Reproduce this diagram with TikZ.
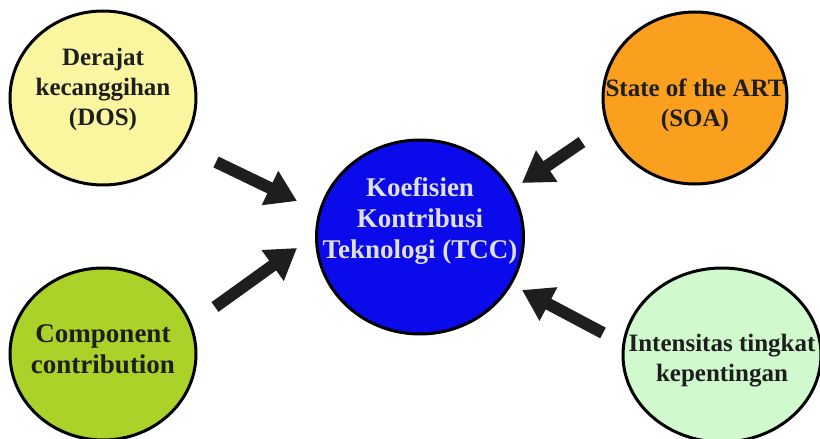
\documentclass[tikz,border=0pt]{standalone}
\usepackage{fontspec}
\setmainfont{Liberation Serif}
\usetikzlibrary{shapes.geometric,arrows.meta}

\definecolor{dosyellow}{RGB}{250,246,160}
\definecolor{soaorange}{RGB}{250,160,30}
\definecolor{tccblue}{RGB}{10,10,235}
\definecolor{ccgreen}{RGB}{170,210,40}
\definecolor{itkgreen}{RGB}{208,250,205}
\definecolor{inkdark}{RGB}{30,30,30}

\tikzset{
    bubble/.style={ellipse, draw=black, line width=3pt, inner sep=0pt},
    bubtext/.style={align=center, text=inkdark, inner sep=0pt,
        font=\bfseries\fontsize{25}{30}\selectfont},
    bigarrow/.style={draw=inkdark, line width=12pt,
        -{Triangle[length=30pt,width=36pt]}}
}

\begin{document}
\begin{tikzpicture}[x=1pt,y=1pt]
    \useasboundingbox (0,0) rectangle (820,-439);

    % circles
    \node[bubble, fill=dosyellow, minimum width=186pt, minimum height=174pt] (dos) at (103,-98) {};
    \node[bubble, fill=soaorange, minimum width=184pt, minimum height=172pt] (soa) at (695,-98) {};
    \node[bubble, fill=tccblue, minimum width=207pt, minimum height=194pt] (tcc) at (420,-237) {};
    \node[bubble, fill=ccgreen, minimum width=186pt, minimum height=172pt] (cc) at (103,-354) {};
    \node[bubble, fill=itkgreen, minimum width=198pt, minimum height=174pt] (itk) at (722,-355) {};

    % texts
    \node[bubtext] (dos-text) at (103,-89) {Derajat\\kecanggihan\\(DOS)};
    \node[bubtext] (soa-text) at (695,-105) {State of the ART\\(SOA)};
    \node[bubtext, text=black!12, font=\bfseries\fontsize{27}{31}\selectfont] (tcc-text) at (420,-221)
        {Koefisien\\Kontribusi\\Teknologi (TCC)};
    \node[bubtext, font=\bfseries\fontsize{27}{31}\selectfont] (cc-text) at (103,-349) {Component\\contribution};
    \node[bubtext] (itk-text) at (722,-361) {Intensitas tingkat\\kepentingan};

    % arrow ends
    \coordinate (a1) at (216,-162);  \coordinate (b1) at (297,-201);
    \coordinate (a2) at (215,-307);  \coordinate (b2) at (297,-248);
    \coordinate (a3) at (582,-142);  \coordinate (b3) at (522,-183);
    \coordinate (a4) at (603,-333);  \coordinate (b4) at (522,-290);

    \foreach \i in {1,2,3,4} {
        \draw[bigarrow] (a\i) -- (b\i);
    }
\end{tikzpicture}
\end{document}
